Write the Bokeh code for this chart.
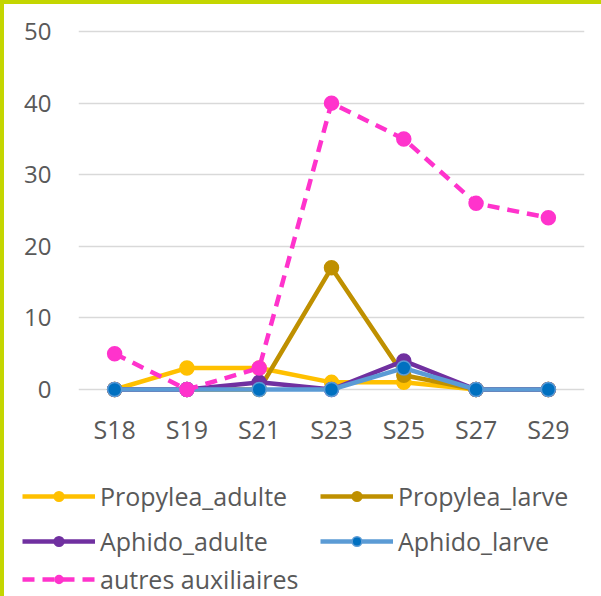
from bokeh.plotting import figure
from bokeh.models import Range1d, FactorRange, FixedTicker, Legend, LegendItem, Column
from bokeh.embed import file_html
from bokeh.resources import INLINE

weeks = ["S18", "S19", "S21", "S23", "S25", "S27", "S29"]
propylea_adulte = [0, 3, 3, 1, 1, 0, 0]
propylea_larve = [0, 0, 0, 17, 2, 0, 0]
aphido_adulte = [0, 0, 1, 0, 4, 0, 0]
aphido_larve = [0, 0, 0, 0, 3, 0, 0]
autres_auxiliaires = [5, 0, 3, 40, 35, 26, 24]
y_ticks = [0, 10, 20, 30, 40, 50]

FONT = "Open Sans"
TXT = "#595959"
GREEN = "#C4D600"

series = [
    ("Propylea_adulte", propylea_adulte, "#FFC000", "#FFC000", "#FFC000", "solid"),
    ("Propylea_larve", propylea_larve, "#BF9000", "#BF9000", "#BF9000", "solid"),
    ("Aphido_adulte", aphido_adulte, "#7030A0", "#7030A0", "#7030A0", "solid"),
    ("Aphido_larve", aphido_larve, "#5B9BD5", "#0070C0", "#5B9BD5", "solid"),
    ("autres auxiliaires", autres_auxiliaires, "#FF33CC", "#FF33CC", "#FF33CC", "12 8"),
]

# ---- main chart ----
p = figure(width=597, height=470, x_range=FactorRange(*weeks, range_padding=0),
           y_range=Range1d(-2.93, 51.54), output_backend="svg", toolbar_location=None,
           min_border_left=74, min_border_right=17, min_border_top=16, min_border_bottom=64)
p.outline_line_color = None
p.background_fill_color = "white"
p.border_fill_color = "white"
p.xgrid.grid_line_color = None
p.ygrid.grid_line_color = "#D9D9D9"
p.ygrid.grid_line_width = 1.5
p.yaxis.ticker = FixedTicker(ticks=y_ticks)
for ax in (p.xaxis[0], p.yaxis[0]):
    ax.axis_line_color = None
    ax.major_tick_line_color = None
    ax.minor_tick_line_color = None
    ax.major_tick_out = 0
    ax.major_tick_in = 0
    ax.major_label_text_font = FONT
    ax.major_label_text_color = TXT
p.yaxis.major_label_text_font_size = "24px"
p.xaxis.major_label_text_font_size = "25px"
p.yaxis.major_label_standoff = 27
p.xaxis.major_label_standoff = 1

def draw(fig):
    out = []
    for name, vals, lc, mf, ml, dash in series:
        lr = fig.line(weeks, vals, line_color=lc, line_width=4.5, line_dash=dash, line_join="round")
        sr = fig.scatter(weeks, vals, size=14, fill_color=mf, line_color=ml, line_width=1.5)
        out.append(LegendItem(label=name, renderers=[lr, sr]))
    return out

draw(p)

# ---- legend strip (same series, view placed away from the data) ----
lf = figure(width=597, height=122, x_range=FactorRange(*weeks), y_range=Range1d(1000, 1001),
            x_axis_type=None, y_axis_type=None,
            output_backend="svg", toolbar_location=None,
            min_border_left=0, min_border_right=0, min_border_top=0, min_border_bottom=0)
lf.grid.visible = False
lf.outline_line_color = None
lf.border_fill_color = "white"
items = draw(lf)

rows = [items[0:2], items[2:4], items[4:5]]
offsets = [83, 38, 0]
heights = [24, 24, 20]
for row, vy, h in zip(rows, offsets, heights):
    lg = Legend(items=row, location=(18, vy), orientation="horizontal",
                glyph_width=73, glyph_height=h, label_standoff=5, label_width=220,
                spacing=0, padding=0, margin=0, border_line_color=None,
                background_fill_alpha=0, label_text_font=FONT,
                label_text_font_size="25px", label_text_color=TXT, label_height=h)
    lf.add_layout(lg, "center")

top = Column(p, styles={"border-left": f"4px solid {GREEN}", "border-top": f"4px solid {GREEN}"})
bottom = Column(lf, styles={"border-left": f"4px solid {GREEN}"})
open("out.html", "w").write(file_html([top, bottom], INLINE))
